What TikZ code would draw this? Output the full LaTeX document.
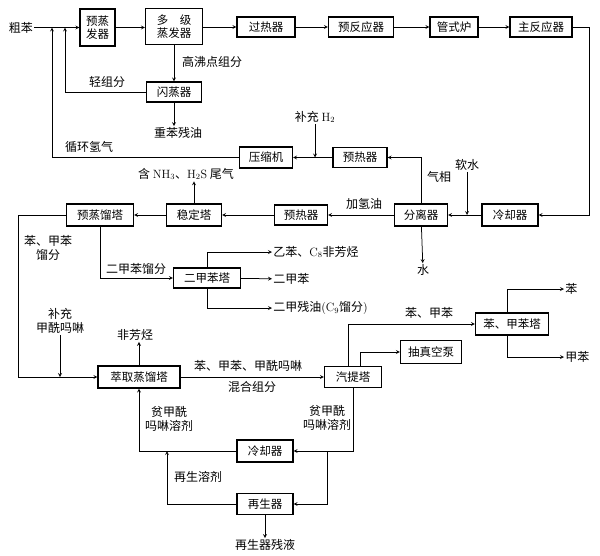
\documentclass[tikz,border=0pt]{standalone}
\usepackage[no-math]{fontspec}
\setmainfont{Noto Sans CJK SC}
\usepackage{tikz}
\tikzset{blk/.style={draw,line width=1.1pt,minimum height=21pt,inner sep=2pt,align=center,font=\fontsize{11.5}{13.5}\selectfont}}
\tikzset{txt/.style={inner sep=1pt,align=center,font=\fontsize{12}{14}\selectfont}}
\begin{document}
\begin{tikzpicture}[>=stealth,x=1pt,y=-1pt,line width=0.75pt]
    \useasboundingbox (0,0) rectangle (600,555);
    % top row
    \node[txt] (cb) at (21,27.5) {粗苯};
    \node[blk,minimum width=35pt,minimum height=37pt] (ybf) at (97.5,27.5) {预蒸\\发器};
    \node[blk,minimum width=57pt,minimum height=36pt] (djf) at (174,26.5) {多\quad 级\\蒸发器};
    \node[blk,minimum width=58pt,minimum height=20pt] (grq) at (266,27) {过热器};
    \node[blk,minimum width=65pt,minimum height=20pt] (yfy) at (361,27) {预反应器};
    \node[blk,minimum width=48pt,minimum height=20pt] (gsl) at (454,27) {管式炉};
    \node[blk,minimum width=62pt,minimum height=20pt] (zfy) at (541,27) {主反应器};
    \node[txt] (gfd) at (212,62) {高沸点组分};
    \node[blk,minimum width=55pt,minimum height=20pt] (szq) at (174,92) {闪蒸器};
    \node[txt] (qzf) at (107,82) {轻组分};
    \node[txt] (zbcy) at (178,133) {重苯残油};
    \node[txt] (xhq) at (89,147) {循环氢气};
    \node[blk,minimum width=53pt] (ysj) at (266,157.5) {压缩机};
    \node[txt] (bch) at (315,117) {补充 $\mathrm{H}_2$};
    \node[blk,minimum width=54pt,minimum height=20pt] (yrq) at (360,157.5) {预热器};
    \node[txt] (rs) at (467,165) {软水};
    \node[txt] (qx) at (439,177) {气相};
    \node[txt] (wq) at (186,174) {含 $\mathrm{NH}_3$、$\mathrm{H_2S}$ 尾气};
    % middle row
    \node[blk,minimum width=53pt,minimum height=22pt] (flq) at (421,215) {分离器};
    \node[blk,minimum width=56pt,minimum height=22pt] (lqa) at (510,215) {冷却器};
    \node[txt] (shui) at (423,270) {水};
    \node[blk,minimum width=53pt,minimum height=20pt] (yrb) at (301,215) {预热器};
    \node[txt] (jqy) at (364,204) {加氢油};
    \node[blk,minimum width=55pt,minimum height=22pt] (wdt) at (194,215) {稳定塔};
    \node[blk,minimum width=67pt,minimum height=22pt] (yzl) at (100,215) {预蒸馏塔};
    \node[txt] (bjf) at (48,248) {苯、甲苯\\馏分};
    \node[txt] (ejf) at (136,269) {二甲苯馏分};
    \node[blk,minimum width=67pt,minimum height=20pt] (ejt) at (207,278) {二甲苯塔};
    \node[txt,anchor=west] (ybc) at (272,252) {乙苯、$\mathrm{C}_8$非芳烃};
    \node[txt,anchor=west] (ejb) at (272,279) {二甲苯};
    \node[txt,anchor=west] (ejy) at (272,308) {二甲残油$(\mathrm{C}_9$馏分$)$};
    % extraction
    \node[txt] (bcj) at (60,321) {补充\\甲酰吗啉};
    \node[txt] (fft) at (135,335) {非芳烃};
    \node[blk,minimum width=82pt,minimum height=22pt] (cql) at (139,377) {萃取蒸馏塔};
    \node[txt] (bjj) at (248,366) {苯、甲苯、甲酰吗啉};
    \node[txt] (hhz) at (252,387) {混合组分};
    \node[blk,minimum width=57pt] (qtt) at (353,377) {汽提塔};
    \node[txt] (bjm) at (429,313) {苯、甲苯};
    \node[blk,minimum width=73pt,minimum height=22pt] (bjt) at (512,324) {苯、甲苯塔};
    \node[txt,anchor=west] (ben) at (564,289) {苯};
    \node[txt,anchor=west] (jb) at (564,357) {甲苯};
    \node[blk,minimum width=61pt,minimum height=23pt] (czk) at (431,352) {抽真空泵};
    \node[txt] (pja) at (169,419) {贫甲酰\\吗啉溶剂};
    \node[txt] (pjb) at (327,418) {贫甲酰\\吗啉溶剂};
    \node[blk,minimum width=56pt,minimum height=22pt] (lqb) at (265,451) {冷却器};
    \node[txt] (zsr) at (198,477) {再生溶剂};
    \node[blk,minimum width=56pt] (zsq) at (265,504) {再生器};
    \node[txt] (zcy) at (265,545) {再生器残液};

    \coordinate (j1) at (52,27.5);
    \coordinate (j2) at (65,27.5);
    \coordinate (r1) at (589,215);
    \coordinate (l1) at (18,377);
    \coordinate (j4) at (327,451);
    \coordinate (j5) at (167,451);

    \draw [->] (cb) to []node[]{} (ybf);
    \draw [->] (ybf.east) to []node[]{} (ybf.east -| djf.west);
    \draw [->] (djf.east |- grq) to []node[]{} (grq);
    \draw [->] (grq) to []node[]{} (yfy);
    \draw [->] (yfy) to []node[]{} (gsl);
    \draw [->] (gsl) to []node[]{} (zfy);
    \draw [->] (zfy) -| (r1) -- (lqa);
    \draw [->] (djf) to []node[]{} (szq);
    \draw [->] (szq) -| (j2);
    \draw [->] (szq.south) to []node[]{} (szq.south |- zbcy.north);
    \draw [->] (ysj) -| (j1);
    \draw [->] (yrq) to []node[]{} (ysj);
    \draw [->] (bch) to []node[]{} (bch |- ysj);
    \draw [->] (flq) |- (yrq);
    \draw [->] (rs) to []node[]{} (rs |- flq);
    \draw [->] (lqa) to []node[]{} (flq);
    \draw [->] (flq) to []node[]{} (shui);
    \draw [->] (flq) to []node[]{} (yrb);
    \draw [->] (yrb) to []node[]{} (wdt);
    \draw [->] (wdt) to []node[]{} (yzl);
    \draw [->] (wdt.north) to []node[]{} (wdt.north |- wq.south);
    \draw [->] (yzl) |- (ejt);
    \draw [->] (ejt) |- (ybc);
    \draw [->] (ejt) to []node[]{} (ejb);
    \draw [->] (ejt) |- (ejy);
    \draw [->] (yzl) -| (l1) -- (cql);
    \draw [->] (bcj) to []node[]{} (bcj |- cql);
    \draw [->] (cql.north) to []node[]{} (cql.north |- fft.south);
    \draw [->] (cql) to []node[]{} (qtt);
    \draw [->] ([xshift=-5pt]qtt.north) |- (bjt);
    \draw [->] ([xshift=7pt]qtt.north) |- (czk);
    \draw [->] ([xshift=-5pt]bjt.north) |- (ben);
    \draw [->] ([xshift=-5pt]bjt.south) |- (jb);
    \draw [->] (qtt) |- (lqb);
    \draw [->] (j4) |- (zsq);
    \draw [->] (lqb) -| (cql);
    \draw [->] (zsq) -| (j5);
    \draw [->] (zsq) to []node[]{} (zcy);
\end{tikzpicture}
\end{document}
